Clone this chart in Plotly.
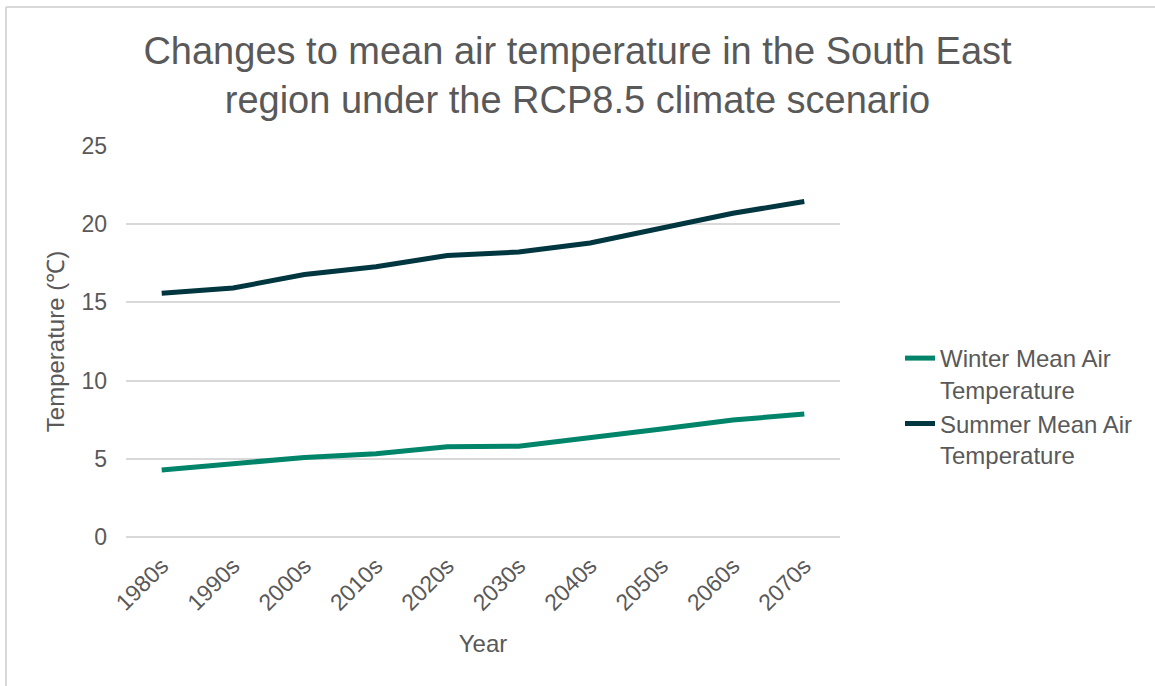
import plotly.graph_objects as go

# Decades along the x axis
decades = ["1980s", "1990s", "2000s", "2010s", "2020s",
           "2030s", "2040s", "2050s", "2060s", "2070s"]

# Mean air temperatures (°C), South East region, RCP8.5
winter_mean = [4.28, 4.72, 5.09, 5.33, 5.77, 5.80, 6.32, 6.90, 7.48, 7.86]
summer_mean = [15.58, 15.92, 16.78, 17.28, 18.00, 18.22, 18.80, 19.76, 20.70, 21.45]

y_ticks = [0, 5, 10, 15, 20, 25]

W, H = 1155, 686
ML, MR, MT, MB = 126, 315, 146, 149
PW, PH = W - ML - MR, H - MT - MB

TEXT = "#595959"
GRID = "#d9d9d9"
FONT = "Liberation Sans, Arial, sans-serif"


def px_x(x):
    return (x - ML) / PW


def px_y(y):
    return (H - MB - y) / PH


fig = go.Figure()
fig.add_trace(go.Scatter(
    x=decades, y=winter_mean, mode="lines",
    name="Winter Mean Air<br>Temperature",
    line=dict(color="#00846A", width=5),
))
fig.add_trace(go.Scatter(
    x=decades, y=summer_mean, mode="lines",
    name="Summer Mean Air<br>Temperature",
    line=dict(color="#00363F", width=5),
))

fig.update_layout(
    width=W, height=H,
    margin=dict(l=ML, r=MR, t=MT, b=MB),
    paper_bgcolor="white", plot_bgcolor="white",
    font=dict(family=FONT, color=TEXT),
    title=dict(
        text="Changes to mean air temperature in the South East<br>"
             "region under the RCP8.5 climate scenario",
        x=0.5, xanchor="center", xref="container",
        y=1 - 64 / H, yanchor="top",
        font=dict(size=38, color=TEXT, family=FONT),
    ),
    legend=dict(
        x=px_x(900), xanchor="left",
        y=px_y(336), yanchor="top",
        font=dict(size=24, color=TEXT, family=FONT),
        valign="top",
        tracegroupgap=12,
        bgcolor="rgba(0,0,0,0)",
    ),
    showlegend=True,
)

fig.update_xaxes(
    type="category",
    range=[-0.5, len(decades) - 0.5],
    tickangle=-45,
    tickfont=dict(size=23, color=TEXT, family=FONT),
    ticklabelstandoff=10,
    showgrid=False, showline=False, zeroline=False,
    title=dict(text="Year", font=dict(size=24, color=TEXT, family=FONT), standoff=20),
)

fig.update_yaxes(
    range=[0, 25],
    tickvals=y_ticks,
    tickfont=dict(size=23, color=TEXT, family=FONT),
    ticklabelstandoff=18,
    showgrid=True, gridcolor=GRID, gridwidth=1.5,
    zeroline=True, zerolinecolor=GRID, zerolinewidth=1.5,
    showline=False,
    title=dict(text="Temperature (℃)", font=dict(size=24, color=TEXT, family=FONT), standoff=10),
)

# Chart-area border (top and left edges)
fig.add_shape(type="line", xref="paper", yref="paper",
              x0=px_x(6), x1=px_x(W + 5), y0=px_y(7), y1=px_y(7),
              line=dict(color=GRID, width=2))
fig.add_shape(type="line", xref="paper", yref="paper",
              x0=px_x(6), x1=px_x(6), y0=px_y(7), y1=px_y(H + 5),
              line=dict(color=GRID, width=2))

fig.write_html("out.html")
